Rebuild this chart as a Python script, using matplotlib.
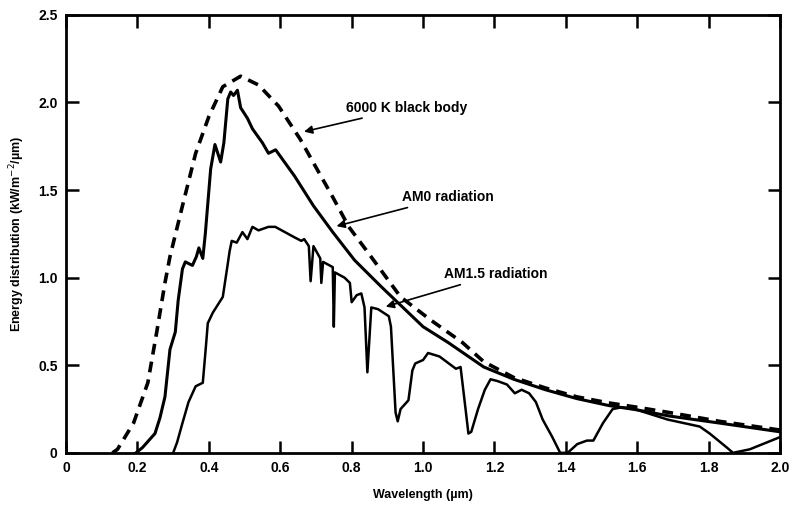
import matplotlib
matplotlib.use("Agg")
import matplotlib.pyplot as plt

# 6000 K black body (dashed)
bb_x = [0.13, 0.144, 0.189, 0.229, 0.254, 0.277, 0.291, 0.326, 0.363, 0.40, 0.439,
        0.489, 0.539, 0.595, 0.656, 0.70, 0.747, 0.792, 0.847, 0.901, 0.937,
        1.02, 1.11, 1.17, 1.254, 1.343, 1.43, 1.52, 1.60, 1.69, 1.83, 2.0]
bb_y = [0.0, 0.02, 0.17, 0.40, 0.69, 0.97, 1.12, 1.41, 1.71, 1.92, 2.09,
        2.15, 2.10, 1.98, 1.79, 1.63, 1.46, 1.29, 1.14, 0.99, 0.89,
        0.76, 0.63, 0.52, 0.43, 0.37, 0.32, 0.285, 0.26, 0.23, 0.18, 0.13]

# AM0 radiation (solid, thick)
am0_x = [0.196, 0.214, 0.249, 0.263, 0.277, 0.291, 0.306, 0.314, 0.326, 0.334, 0.354,
         0.365, 0.372, 0.383, 0.39, 0.405, 0.417, 0.433, 0.442, 0.453, 0.461, 0.469,
         0.48, 0.489, 0.508, 0.522, 0.55, 0.567, 0.587, 0.64, 0.693, 0.747,
         0.808, 0.882, 1.0, 1.07, 1.17, 1.254, 1.343, 1.43, 1.52, 1.60, 1.69, 1.83, 2.0]
am0_y = [0.0, 0.03, 0.11, 0.20, 0.32, 0.59, 0.69, 0.87, 1.05, 1.09, 1.07,
         1.12, 1.17, 1.11, 1.25, 1.62, 1.76, 1.66, 1.77, 2.02, 2.06, 2.04,
         2.07, 1.97, 1.91, 1.85, 1.77, 1.71, 1.73, 1.58, 1.41, 1.26,
         1.10, 0.95, 0.72, 0.63, 0.49, 0.42, 0.36, 0.31, 0.27, 0.245, 0.21, 0.17, 0.12]

# AM1.5 radiation (solid)
am15_x = [0.30, 0.311, 0.326, 0.343, 0.363, 0.383, 0.391, 0.397, 0.411, 0.439, 0.453,
          0.458, 0.464, 0.478, 0.494, 0.508, 0.522, 0.539, 0.567, 0.586, 0.613, 0.64,
          0.659, 0.667, 0.68, 0.685, 0.693, 0.712, 0.715, 0.72, 0.747, 0.75, 0.753,
          0.78, 0.795, 0.80, 0.814, 0.827, 0.836, 0.844, 0.855, 0.874, 0.904, 0.91,
          0.923, 0.929, 0.937, 0.959, 0.97, 0.978, 1.0, 1.014, 1.046, 1.092, 1.105,
          1.119, 1.127, 1.135, 1.154, 1.173, 1.189, 1.208, 1.235, 1.257, 1.276, 1.297,
          1.316, 1.335, 1.362, 1.384, 1.405, 1.432, 1.459, 1.477, 1.504, 1.531, 1.557,
          1.592, 1.685, 1.775, 1.803, 1.851, 1.868, 1.915, 2.0]
am15_y = [0.0, 0.06, 0.17, 0.29, 0.38, 0.40, 0.59, 0.74, 0.80, 0.89, 1.08,
          1.15, 1.21, 1.20, 1.26, 1.22, 1.29, 1.27, 1.29, 1.29, 1.26, 1.23,
          1.21, 1.22, 1.18, 0.98, 1.18, 1.11, 0.97, 1.09, 1.06, 0.72, 1.03,
          1.00, 0.97, 0.86, 0.90, 0.91, 0.83, 0.46, 0.83, 0.82, 0.78, 0.72,
          0.23, 0.18, 0.25, 0.30, 0.47, 0.51, 0.53, 0.57, 0.55, 0.48, 0.49,
          0.25, 0.11, 0.12, 0.25, 0.36, 0.42, 0.41, 0.39, 0.34, 0.36, 0.34,
          0.29, 0.19, 0.09, 0.0, 0.0, 0.05, 0.07, 0.07, 0.17, 0.25, 0.26,
          0.25, 0.19, 0.15, 0.11, 0.03, 0.0, 0.02, 0.09]

x_ticks = [0, 0.2, 0.4, 0.6, 0.8, 1.0, 1.2, 1.4, 1.6, 1.8, 2.0]
x_tick_labels = ["0", "0.2", "0.4", "0.6", "0.8", "1.0", "1.2", "1.4", "1.6", "1.8", "2.0"]
y_ticks = [0, 0.5, 1.0, 1.5, 2.0, 2.5]
y_tick_labels = ["0", "0.5", "1.0", "1.5", "2.0", "2.5"]

plt.rcParams["font.family"] = ["Liberation Sans", "DejaVu Sans"]

fig = plt.figure(figsize=(7.96, 5.14), dpi=100)
ax = fig.add_axes([0.083, 0.119, 0.897, 0.852])

ax.plot(bb_x, bb_y, color="black", lw=2.6, linestyle=(0, (3, 2)))
ax.plot(am0_x, am0_y, color="black", lw=2.2)
ax.plot(am15_x, am15_y, color="black", lw=1.8)

ax.set_xlim(0, 2.0)
ax.set_ylim(0, 2.5)
ax.set_xticks(x_ticks)
ax.set_xticklabels(x_tick_labels)
ax.set_yticks(y_ticks)
ax.set_yticklabels(y_tick_labels)
ax.tick_params(direction="in", length=9, width=1.8, top=True, right=True,
               labelsize=10, pad=6)
for label in ax.get_xticklabels() + ax.get_yticklabels():
    label.set_fontweight("bold")
for spine in ax.spines.values():
    spine.set_linewidth(2)

ax.set_xlabel("Wavelength (µm)", fontsize=9, fontweight="bold", labelpad=10)
ax.set_ylabel("Energy distribution (kW/m$^{-2}$/µm)", fontsize=9, fontweight="bold",
              labelpad=8)

arrow = dict(arrowstyle="-|>", color="black", lw=1.2, mutation_scale=12)
ax.annotate("6000 K black body", xy=(0.659, 1.83), xytext=(0.785, 1.97),
            fontsize=10, fontweight="bold", va="center", arrowprops=arrow)
ax.annotate("AM0 radiation", xy=(0.75, 1.29), xytext=(0.94, 1.46),
            fontsize=10, fontweight="bold", va="center", arrowprops=arrow)
ax.annotate("AM1.5 radiation", xy=(0.888, 0.83), xytext=(1.06, 1.02),
            fontsize=10, fontweight="bold", va="center", arrowprops=arrow)

fig.savefig("out.png", dpi=100)
